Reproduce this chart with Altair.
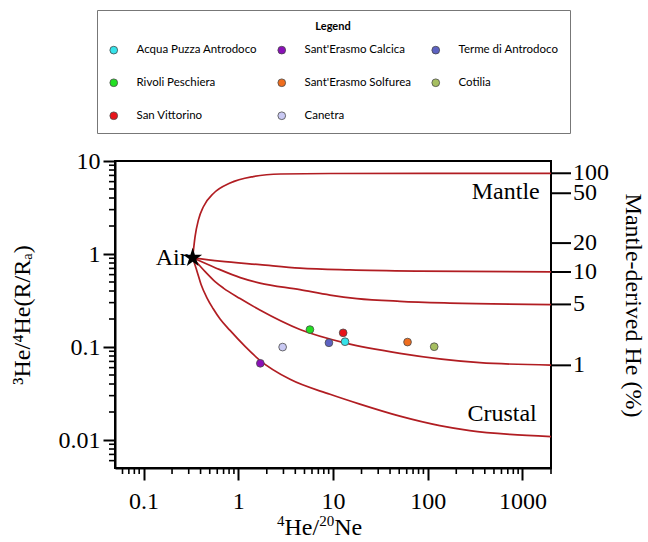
import altair as alt
import pandas as pd

# Air end-member (4He/20Ne, R/Ra)
AIR_X = 0.33
AIR_R = 0.91

# Air-mixing curves traced along their length: 4He/20Ne and R/Ra
mantle_x = [AIR_X, 0.35, 0.38, 0.43, 0.55, 0.82, 1.44, 2.8, 9.3, 2000]
mantle_r = [AIR_R, 1.54, 2.33, 3.24, 4.5, 5.8, 6.8, 7.25, 7.34, 7.35]
mix10_x = [AIR_X, 0.64, 1.69, 4.48, 15.1, 82.6, 2000]
mix10_r = [AIR_R, 0.837, 0.768, 0.705, 0.674, 0.654, 0.641]
mix5_x = [AIR_X, 0.57, 1.05, 1.69, 4.48, 9.3, 17.9, 50.8, 171, 2000]
mix5_r = [AIR_R, 0.713, 0.557, 0.486, 0.414, 0.362, 0.332, 0.310, 0.297, 0.286]
mix1_x = [AIR_X, 0.447, 0.569, 0.697, 1.045, 1.69, 4.48, 13.4, 50.8, 354, 2000]
mix1_r = [AIR_R, 0.646, 0.505, 0.430, 0.332, 0.250, 0.1544, 0.1106, 0.0854, 0.0679, 0.064]
crust_x = [AIR_X, 0.368, 0.405, 0.4655, 0.542, 0.643, 0.819, 1.18, 1.69, 3.52, 9.3, 19.2,
           50.8, 134, 278, 735, 2000]
crust_r = [AIR_R, 0.646, 0.469, 0.340, 0.2593, 0.200, 0.1507, 0.1015, 0.0719, 0.0449, 0.0310,
           0.0243, 0.01804, 0.01427, 0.01262, 0.01148, 0.01088]

# Sampled springs
sites = ["Acqua Puzza Antrodoco", "Sant'Erasmo Calcica", "Terme di Antrodoco",
         "Rivoli Peschiera", "Sant'Erasmo Solfurea", "Cotilia",
         "San Vittorino", "Canetra"]
site_he_ne = [13.4, 1.71, 9.06, 5.71, 61.2, 117, 12.8, 2.94]
site_r_ra = [0.114, 0.0668, 0.111, 0.154, 0.113, 0.1007, 0.142, 0.0998]
site_colors = ["#35e3ea", "#8a10b8", "#5d62c2", "#22e022", "#ef6d1e", "#a6bf60",
               "#e8141a", "#c9c9f3"]

# Mantle-derived He (%) scale on the right-hand side, at its R/Ra levels
mantle_pct = ["100", "50", "20", "10", "5", "1"]
mantle_pct_r = [7.38, 4.5, 1.31, 0.64, 0.287, 0.0635]

# Axis tick values
x_major = [0.1, 1, 10, 100, 1000]
y_major = [0.01, 0.1, 1, 10]
x_minor = ([m / 100 for m in range(6, 10)] + [m / 10 for m in range(2, 10)]
           + [m for m in range(2, 10)] + [m * 10 for m in range(2, 10)]
           + [m * 100 for m in range(2, 10)] + [2000])
y_minor = ([m / 1000 for m in range(6, 10)] + [m / 100 for m in range(2, 10)]
           + [m / 10 for m in range(2, 10)] + [m for m in range(2, 10)])

curves = []
for name, xs_, rs_ in [("mantle", mantle_x, mantle_r), ("10%", mix10_x, mix10_r),
                       ("5%", mix5_x, mix5_r), ("1%", mix1_x, mix1_r),
                       ("crustal", crust_x, crust_r)]:
    for a, b in zip(xs_, rs_):
        curves.append({"curve": name, "x": a, "r": b})
curve_df = pd.DataFrame(curves)
site_df = pd.DataFrame({"site": sites, "x": site_he_ne, "r": site_r_ra})
pct_df = pd.DataFrame({"pct": mantle_pct, "r": mantle_pct_r})
air_df = pd.DataFrame({"label": ["Air"], "x": [AIR_X], "r": [AIR_R]})
region_df = pd.DataFrame({"label": ["Mantle", "Crustal"], "x": [1520, 1413], "r": [4.65, 0.019]})

SERIF = "Liberation Serif"
RED = "#b11d22"
W, H = 436, 307

# Five-pointed star as a unit-square symbol path
STAR = ("M0,-1L0.225,-0.309L0.951,-0.309L0.363,0.118L0.588,0.809L0,0.382"
        "L-0.588,0.809L-0.363,0.118L-0.951,-0.309L-0.225,-0.309Z")

x_scale = alt.Scale(type="log", domain=[0.05, 2000], nice=False)
y_scale = alt.Scale(type="log", domain=[0.005, 10], nice=False)

common_axis = dict(grid=False, tickColor="black", labelColor="black",
                   labelFont=SERIF, labelFontSize=24, labelOverlap=False,
                   labelFlush=False, titleFont=SERIF, titleFontSize=24,
                   titleFontWeight="normal", titleColor="black",
                   tickSize=12, tickWidth=2, domainColor="black", domainWidth=2)

x_axis = alt.Axis(values=x_major, format="~g", labelPadding=9, title=None, **common_axis)
y_axis = alt.Axis(values=y_major, format="~g", labelPadding=3,
                  title="³He/⁴He(R/Rₐ)", titlePadding=24, **common_axis)

X = alt.X("x:Q", scale=x_scale, axis=x_axis)
Y = alt.Y("r:Q", scale=y_scale, axis=y_axis)

lines = alt.Chart(curve_df).mark_line(
    color=RED, strokeWidth=1.7, interpolate="monotone", clip=True
).encode(x=X, y=Y, detail="curve:N")

points = alt.Chart(site_df).mark_circle(
    size=60, opacity=1, stroke="#4a4a4a", strokeWidth=0.8
).encode(
    x=X, y=Y,
    color=alt.Color(
        "site:N",
        scale=alt.Scale(domain=sites, range=site_colors),
        legend=alt.Legend(
            title="Legend", orient="none", legendX=-18, legendY=-151,
            direction="horizontal", columns=3, gridAlign="each",
            columnPadding=19, rowPadding=20,
            labelOffset=17, padding=11, strokeColor="#777777", fillColor="white",
            titleAnchor="middle", titleFont="Lato", titleFontSize=11,
            titleFontWeight="bold", titleColor="black", titlePadding=12,
            labelFont="Lato", labelFontSize=11.5, labelColor="black", labelLimit=300,
            symbolType="circle", symbolSize=60, symbolStrokeColor="#4a4a4a",
            symbolStrokeWidth=0.8, symbolOpacity=1,
        ),
    ),
)

air_star = alt.Chart(air_df).mark_point(
    shape=STAR, filled=True, color="black", size=400, opacity=1
).encode(x=X, y=Y)

air_text = alt.Chart(air_df).mark_text(
    font=SERIF, fontSize=24, color="black", align="right", baseline="middle", dx=-5
).encode(x=X, y=Y, text="label:N")

region_text = alt.Chart(region_df).mark_text(
    font=SERIF, fontSize=24, color="black", align="right", baseline="middle"
).encode(x=X, y=Y, text="label:N")

# Minor log ticks, drawn outside the frame
x_minor_ticks = alt.Chart(pd.DataFrame({"x": x_minor})).mark_rule(
    color="black", strokeWidth=1.6
).encode(x=X, y=alt.value(H), y2=alt.value(H + 6))
y_minor_ticks = alt.Chart(pd.DataFrame({"r": y_minor})).mark_rule(
    color="black", strokeWidth=1.6
).encode(y=Y, x=alt.value(0), x2=alt.value(-6))

# Right-hand mantle-derived He (%) scale
pct_ticks = alt.Chart(pct_df).mark_rule(color="black", strokeWidth=2).encode(
    y=Y, x=alt.value(W), x2=alt.value(W + 20)
)
pct_labels = alt.Chart(pct_df).mark_text(
    font=SERIF, fontSize=24, color="black", align="left", baseline="middle"
).encode(y=Y, x=alt.value(W + 22), text="pct:N")
pct_title = alt.Chart(pd.DataFrame({"label": ["Mantle-derived He (%)"]})).mark_text(
    font=SERIF, fontSize=24, color="black", align="center", baseline="middle", angle=90
).encode(x=alt.value(W + 82), y=alt.value(H / 2 - 9), text="label:N")


# x-axis title 4He/20Ne, set piece by piece so the mass numbers are superscript
def title_piece(text, x, size, raise_by):
    return alt.Chart(pd.DataFrame({"label": [text]})).mark_text(
        font=SERIF, fontSize=size, color="black", align="left", baseline="alphabetic"
    ).encode(x=alt.value(x), y=alt.value(H + 67 - raise_by), text="label:N")


x_title = [
    title_piece("4", 162, 15, 9),
    title_piece("He/", 169.5, 24, 0),
    title_piece("20", 204.2, 15, 9),
    title_piece("Ne", 219.2, 24, 0),
]

chart = alt.layer(
    lines, x_minor_ticks, y_minor_ticks, points, air_star, air_text, region_text,
    pct_ticks, pct_labels, pct_title, *x_title,
).properties(
    width=W, height=H,
    padding={"left": 115, "top": 161, "right": 97, "bottom": 74},
    autosize=alt.AutoSizeParams(type="none"),
    background="white",
).configure_view(
    stroke="black", strokeWidth=2
)

chart.save("out.html", embed_options={"renderer": "svg", "actions": False})
